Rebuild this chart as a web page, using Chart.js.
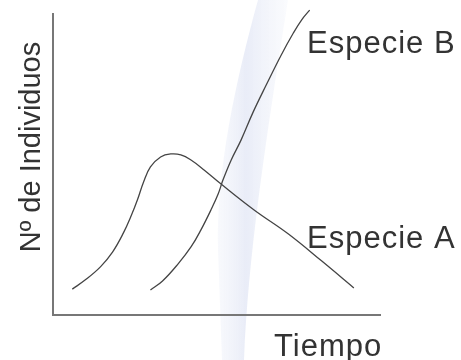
<!DOCTYPE html>
<html>
<head>
<meta charset="utf-8">
<script src="https://cdn.jsdelivr.net/npm/chart.js@4.4.1/dist/chart.umd.min.js"></script>
<style>
  html, body { margin: 0; padding: 0; background: #fff; }
  canvas { display: block; }
</style>
</head>
<body>
<canvas id="grafico" width="461" height="360"></canvas>
<script>
// Datos (tiempo 0-100, individuos 0-100)
const tiempoA = [5.9, 9.8, 14.5, 18.2, 21.5, 24.0, 25.8, 27.7, 29.8, 32.9, 36.0, 39.1, 42.2, 46.2, 51.4, 61.5, 72.0, 82.2, 92.0];
const especieA = [8.6, 11.6, 16.0, 20.9, 27.2, 33.2, 38.2, 44.2, 49.2, 52.5, 53.5, 53.2, 51.5, 48.2, 43.5, 34.9, 26.9, 17.9, 9.0];
const tiempoB = [29.8, 33.5, 38.2, 42.2, 45.2, 48.3, 50.5, 52.0, 54.5, 57.5, 61.2, 65.2, 69.8, 73.5, 76.0, 78.5];
const especieB = [8.3, 11.3, 16.9, 22.6, 28.2, 34.9, 40.2, 44.9, 51.5, 58.1, 67.4, 76.4, 86.4, 93.7, 98.0, 101.3];

const etiquetaY = 'Nº de Individuos';
const etiquetaX = 'Tiempo';
const nombres = ['Especie A', 'Especie B'];

// Convertir a puntos {x, y}
function puntos(xs, ys) {
    return xs.map((x, i) => ({ x: x, y: ys[i] }));
}

// Franja azul clara de fondo (marca de agua)
const fondoPlugin = {
    id: 'fondo',
    beforeDraw(chart) {
        const ctx = chart.ctx;
        ctx.save();
        const grad = ctx.createLinearGradient(212, 0, 288, 0);
        grad.addColorStop(0, 'rgba(245,247,252,0.5)');
        grad.addColorStop(0.45, 'rgba(229,233,246,0.85)');
        grad.addColorStop(1, 'rgba(245,247,252,0.5)');
        ctx.fillStyle = grad;
        ctx.beginPath();
        ctx.moveTo(258, 0);
        ctx.bezierCurveTo(236, 80, 216, 170, 218, 250);
        ctx.lineTo(222, 360);
        ctx.lineTo(244, 360);
        ctx.bezierCurveTo(248, 260, 264, 150, 288, 0);
        ctx.closePath();
        ctx.fill();
        ctx.restore();
    }
};

// Textos: ejes y nombres de las especies
const textosPlugin = {
    id: 'textos',
    afterDraw(chart) {
        const ctx = chart.ctx;
        ctx.save();
        ctx.fillStyle = '#333';
        ctx.font = '31px "Liberation Sans", Arial, sans-serif';
        ctx.letterSpacing = '1px';
        ctx.textAlign = 'left';
        ctx.textBaseline = 'alphabetic';
        ctx.fillText(nombres[1], 307, 53);
        ctx.fillText(nombres[0], 307, 248);
        ctx.fillText(etiquetaX, 274, 356);

        ctx.font = '29px "Liberation Sans", Arial, sans-serif';
        ctx.letterSpacing = '0px';
        ctx.translate(40, 147);
        ctx.rotate(-Math.PI / 2);
        ctx.textAlign = 'center';
        ctx.fillText(etiquetaY, 0, 0);
        ctx.restore();
    }
};

const ejeComun = {
    type: 'linear',
    min: 0,
    max: 100,
    grid: { display: false, drawTicks: false },
    ticks: { display: false },
    border: { display: true, color: '#777', width: 2 }
};

new Chart(document.getElementById('grafico'), {
    type: 'scatter',
    data: {
        datasets: [
            {
                label: nombres[0],
                data: puntos(tiempoA, especieA),
                showLine: true,
                borderColor: '#444',
                borderWidth: 1.3,
                pointRadius: 0,
                tension: 0.4,
                clip: false
            },
            {
                label: nombres[1],
                data: puntos(tiempoB, especieB),
                showLine: true,
                borderColor: '#444',
                borderWidth: 1.3,
                pointRadius: 0,
                tension: 0.4,
                clip: false
            }
        ]
    },
    options: {
        responsive: false,
        animation: false,
        layout: { padding: { left: 53, right: 81, top: 14, bottom: 45 } },
        plugins: {
            legend: { display: false },
            tooltip: { enabled: false }
        },
        scales: {
            x: ejeComun,
            y: ejeComun
        }
    },
    plugins: [fondoPlugin, textosPlugin]
});
</script>
</body>
</html>
